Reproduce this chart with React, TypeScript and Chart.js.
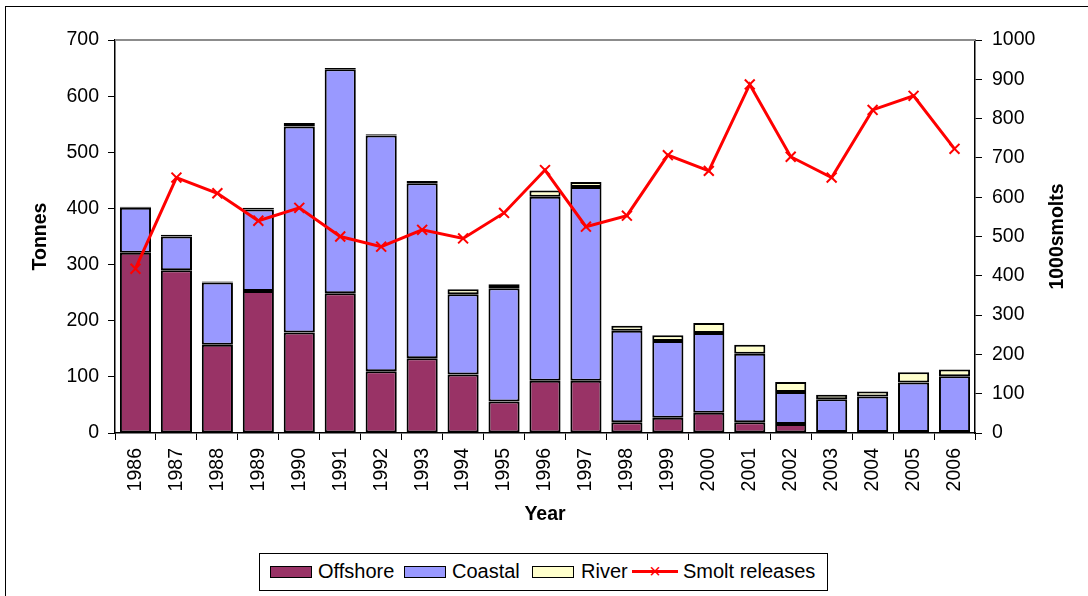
import React, { useEffect, useRef } from "react";
import { Chart, registerables } from "chart.js";

Chart.register(...registerables);

const years = ["1986","1987","1988","1989","1990","1991","1992","1993","1994","1995","1996","1997","1998","1999","2000","2001","2002","2003","2004","2005","2006"];
const offshore = [321, 290, 157, 253, 179, 249, 110, 133, 104, 56, 93, 93, 19, 27, 36, 19, 16, 2, 2, 2, 2];
const coastal = [80, 60, 111, 145, 367, 399, 420, 312, 143, 202, 328, 345, 163, 137, 142, 122, 57, 58, 63, 88, 99];
const river = [2, 3, 2, 3, 6, 2, 2, 4, 9, 7, 11, 9, 9, 10, 18, 16, 18, 8, 9, 18, 12];
const smolts = [418, 650, 610, 540, 573, 500, 474, 517, 495, 560, 669, 525, 553, 707, 667, 887, 703, 650, 822, 858, 723];
const leftTicks = [0, 100, 200, 300, 400, 500, 600, 700];
const rightTicks = [0, 100, 200, 300, 400, 500, 600, 700, 800, 900, 1000];
const rightTitle = "1000smolts";

const FONT = "'Liberation Sans', Arial, sans-serif";
const TICK_SIZE = 19.5;

export default function App() {
  const ref = useRef<HTMLCanvasElement | null>(null);
  useEffect(() => {
    if (!ref.current) return;
    const extras = {
      id: "extras",
      afterDraw(chart: any) {
        const { ctx, chartArea } = chart;
        ctx.save();
        ctx.strokeStyle = "#8c8c8c";
        ctx.lineWidth = 2;
        ctx.beginPath();
        ctx.moveTo(chartArea.left, chartArea.top);
        ctx.lineTo(chartArea.right, chartArea.top);
        ctx.stroke();
        // right axis title, reading bottom-to-top
        ctx.translate(chartArea.right + 83, (chartArea.top + chartArea.bottom) / 2);
        ctx.rotate(-Math.PI / 2);
        ctx.fillStyle = "#000";
        ctx.font = `bold ${TICK_SIZE}px ${FONT}`;
        ctx.textAlign = "center";
        ctx.textBaseline = "middle";
        ctx.fillText(rightTitle, 0, 0);
        ctx.restore();
      },
    };
    const barCommon = {
      type: "bar" as const,
      yAxisID: "y",
      borderColor: "#000000",
      borderWidth: 2,
      borderSkipped: false,
      barPercentage: 0.76,
      categoryPercentage: 1,
      order: 1,
    };
    const chart = new Chart(ref.current, {
      type: "bar",
      data: {
        labels: years,
        datasets: [
          { ...barCommon, label: "Offshore", data: offshore, backgroundColor: "#993366" },
          { ...barCommon, label: "Coastal", data: coastal, backgroundColor: "#9999FF" },
          { ...barCommon, label: "River", data: river, backgroundColor: "#FFFFCC" },
          {
            type: "line",
            label: "Smolt releases",
            data: smolts,
            yAxisID: "y1",
            borderColor: "#FF0000",
            backgroundColor: "#FF0000",
            borderWidth: 3,
            pointStyle: "crossRot",
            pointRadius: 7,
            pointBorderWidth: 2,
            pointBorderColor: "#FF0000",
            tension: 0,
            order: 0,
          } as any,
        ],
      },
      options: {
        animation: false,
        responsive: false,
        maintainAspectRatio: false,
        layout: { padding: { left: 25, right: 13, top: 40, bottom: 66 } },
        plugins: { legend: { display: false }, tooltip: { enabled: false } },
        scales: {
          x: {
            stacked: true,
            offset: true,
            afterFit: (s: any) => { s.height = 97; },
            grid: { display: true, offset: true, drawOnChartArea: false, drawTicks: true, tickLength: 7, color: "#000", lineWidth: 1 },
            border: { display: true, color: "#000", width: 1.5 },
            ticks: { autoSkip: false, minRotation: 90, maxRotation: 90, color: "#000", font: { family: FONT, size: TICK_SIZE }, padding: 8 },
            title: { display: true, text: "Year", color: "#000", font: { family: FONT, size: TICK_SIZE, weight: "bold" }, padding: { top: 4, bottom: 4 } },
          },
          y: {
            stacked: true,
            position: "left",
            min: 0,
            max: 700,
            afterFit: (s: any) => { s.width = 90; },
            afterBuildTicks: (s: any) => { s.ticks = leftTicks.map((v) => ({ value: v })); },
            grid: { display: true, drawOnChartArea: false, drawTicks: true, tickLength: 7, color: "#000" },
            border: { display: true, color: "#000", width: 1.5 },
            ticks: { color: "#000", font: { family: FONT, size: TICK_SIZE }, padding: 9, callback: (v: any) => String(v) },
            title: { display: true, text: "Tonnes", color: "#000", font: { family: FONT, size: TICK_SIZE, weight: "bold" }, padding: { top: 4, bottom: 4 } },
          },
          y1: {
            position: "right",
            min: 0,
            max: 1000,
            afterFit: (s: any) => { s.width = 100; },
            afterBuildTicks: (s: any) => { s.ticks = rightTicks.map((v) => ({ value: v })); },
            grid: { display: true, drawOnChartArea: false, drawTicks: true, tickLength: 7, color: "#000" },
            border: { display: true, color: "#000", width: 1.5 },
            ticks: { color: "#000", font: { family: FONT, size: TICK_SIZE }, padding: 10, callback: (v: any) => String(v) },
            title: { display: false },
          },
        },
      } as any,
      plugins: [extras],
    });
    return () => chart.destroy();
  }, []);

  const swatch = (left: number, bg: string) => (
    <span style={{ position: "absolute", left: left - 258, top: 12, width: 42, height: 12, boxSizing: "border-box", background: bg, border: "1.5px solid #000" }} />
  );
  const label = (left: number, text: string) => (
    <span style={{ position: "absolute", left: left - 258, top: 6, lineHeight: "22px" }}>{text}</span>
  );

  return (
    <div style={{ position: "fixed", left: 0, top: 0, width: 1088, height: 596, overflow: "hidden", background: "#fff" }}>
      <div style={{ position: "absolute", left: 5, top: 6, width: 1200, height: 700, border: "1.5px solid #000", boxSizing: "border-box" }} />
      <canvas ref={ref} width={1088} height={596} style={{ position: "absolute", left: 0, top: 0, width: 1088, height: 596 }} />
      <div
        style={{
          position: "absolute", left: 259, top: 553, width: 569, height: 38, boxSizing: "border-box",
          border: "1.5px solid #000", background: "#fff",
          fontFamily: FONT, fontSize: 20, color: "#000", whiteSpace: "nowrap",
        }}
      >
        {swatch(268, "#993366")}
        {label(316, "Offshore")}
        {swatch(402, "#9999FF")}
        {label(450, "Coastal")}
        {swatch(530, "#FFFFCC")}
        {label(579, "River")}
        <span style={{ position: "absolute", left: 630 - 258, top: 16, width: 46, height: 3, background: "#FF0000" }} />
        <span style={{ position: "absolute", left: 646 - 258, top: 6, width: 14, textAlign: "center", color: "#FF0000", fontSize: 20, lineHeight: "22px" }}>×</span>
        {label(681, "Smolt releases")}
      </div>
    </div>
  );
}
